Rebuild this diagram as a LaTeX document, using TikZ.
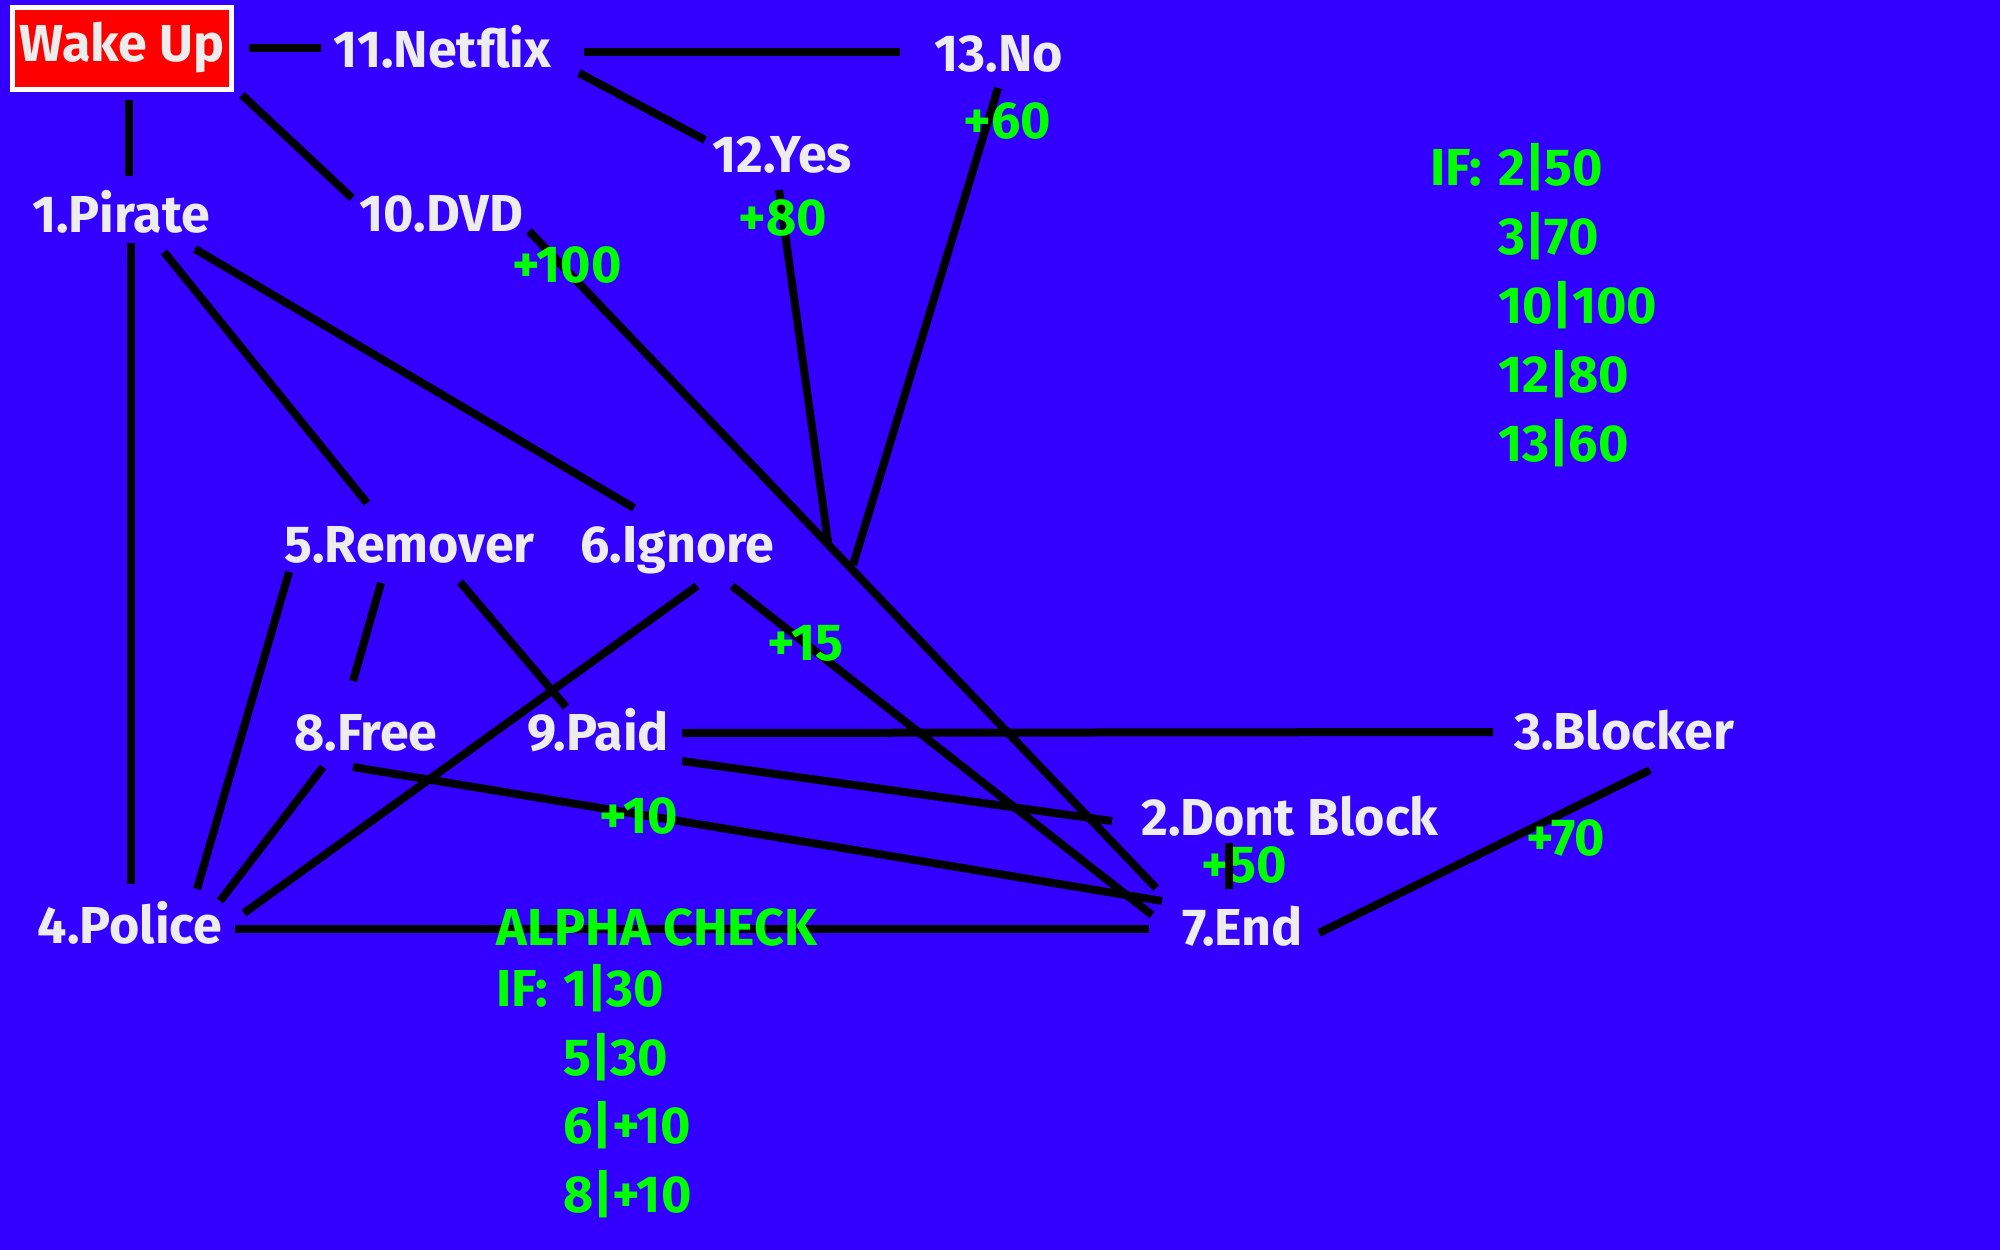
\documentclass[tikz,border=0pt]{standalone}
\usepackage{fontspec}
\setmainfont{Fira Sans}
\definecolor{bg}{HTML}{3300FF}
\definecolor{lbl}{HTML}{EDEDED}
\definecolor{grn}{HTML}{00FF00}
\definecolor{boxred}{HTML}{FF0000}
\tikzset{
  lab/.style={inner sep=0pt, anchor=base, text=lbl, font=\fontsize{52}{62}\selectfont\bfseries},
  gain/.style={inner sep=0pt, anchor=base, text=grn, font=\fontsize{52}{62}\selectfont\bfseries},
  gainl/.style={gain, anchor=base west},
  wire/.style={line width=8pt, black},
}
\begin{document}
\begin{tikzpicture}[x=1pt,y=-1pt]
\useasboundingbox (0,0) rectangle (2000,1250);
\fill[bg] (0,0) rectangle (2000,1250);

% connector end points
\coordinate (wake-n1) at (249,48);   \coordinate (netflix-w) at (321,48);
\coordinate (netflix-e) at (584,52); \coordinate (no-w) at (900,52);
\coordinate (netflix-s) at (579,73); \coordinate (yes-n) at (705,140);
\coordinate (wake-s) at (129,100);   \coordinate (pirate-n) at (129,176);
\coordinate (wake-se) at (242,95);   \coordinate (dvd-n) at (352,198);
\coordinate (dvd-s) at (529,231);    \coordinate (end-dvd) at (1156,888);
\coordinate (yes-s) at (779,190);    \coordinate (join-yes) at (828,542);
\coordinate (no-s) at (998,88);      \coordinate (join-no) at (853,565);
\coordinate (pirate-s) at (131,243); \coordinate (police-n) at (131,884);
\coordinate (pirate-s2) at (164,252);\coordinate (remover-n) at (367,503);
\coordinate (pirate-s3) at (195,249);\coordinate (ignore-n) at (634,508);
\coordinate (remover-s1) at (289,572);\coordinate (police-n2) at (197,889);
\coordinate (remover-s2) at (381,583);\coordinate (free-n) at (353,681);
\coordinate (remover-s3) at (460,582);\coordinate (paid-n) at (566,707);
\coordinate (ignore-s1) at (697,586); \coordinate (police-ne) at (244,913);
\coordinate (ignore-s2) at (732,586); \coordinate (end-ignore) at (1152,915);
\coordinate (free-s1) at (323,767);   \coordinate (police-n3) at (220,901);
\coordinate (free-s2) at (353,767);   \coordinate (end-free) at (1162,901);
\coordinate (paid-e1) at (682,733);   \coordinate (blocker-w) at (1493,732);
\coordinate (paid-e2) at (682,761);   \coordinate (dontblock-w) at (1112,821);
\coordinate (police-e) at (235,929);  \coordinate (end-w) at (1149,929);
\coordinate (dontblock-s) at (1229,843); \coordinate (end-n) at (1229,889);
\coordinate (end-e) at (1319,933);    \coordinate (blocker-s) at (1650,770);

% this gain sits under its connector in the reference
\node[gain] (g50) at (1244.5,882) {+50};

% connectors
\draw[wire] (wake-n1) -- (netflix-w);
\draw[wire] (netflix-e) -- (no-w);
\draw[wire] (netflix-s) -- (yes-n);
\draw[wire] (wake-s) -- (pirate-n);
\draw[wire] (wake-se) -- (dvd-n);
\draw[wire] (dvd-s) -- (end-dvd);
\draw[wire] (yes-s) -- (join-yes);
\draw[wire] (no-s) -- (join-no);
\draw[wire] (pirate-s) -- (police-n);
\draw[wire] (pirate-s2) -- (remover-n);
\draw[wire] (pirate-s3) -- (ignore-n);
\draw[wire] (remover-s1) -- (police-n2);
\draw[wire] (remover-s2) -- (free-n);
\draw[wire] (remover-s3) -- (paid-n);
\draw[wire] (ignore-s1) -- (police-ne);
\draw[wire] (ignore-s2) -- (end-ignore);
\draw[wire] (free-s1) -- (police-n3);
\draw[wire] (free-s2) -- (end-free);
\draw[wire] (paid-e1) -- (blocker-w);
\draw[wire] (paid-e2) -- (dontblock-w);
\draw[wire] (police-e) -- (end-w);
\draw[wire] (dontblock-s) -- (end-n);
\draw[wire] (end-e) -- (blocker-s);

% start box
\node[draw=white, line width=5pt, fill=boxred, minimum width=219pt, minimum height=82pt, inner sep=0pt,
      text=lbl, font=\fontsize{52}{62}\selectfont\bfseries] (wake) at (122,48) {Wake Up};

% labels
\node[lab] (netflix) at (442.5,67) {11.Netflix};
\node[lab] (no) at (999,71) {13.No};
\node[lab] (yes) at (782,172) {12.Yes};
\node[gain] (g60) at (1007.5,138) {+60};
\node[gain] (g80) at (783,235) {+80};
\node[lab] (pirate) at (121,232) {1.Pirate};
\node[lab] (dvd) at (441.5,231) {10.DVD};
\node[gain] (g100) at (567,282) {+100};
\node[lab] (remover) at (409.5,562) {5.Remover};
\node[lab] (ignore) at (677.5,562) {6.Ignore};
\node[gain] (g15) at (805.5,660) {+15};
\node[lab] (free) at (366,750) {8.Free};
\node[lab] (paid) at (598,750) {9.Paid};
\node[lab] (blocker) at (1624,749) {3.Blocker};
\node[lab] (dontblock) at (1290,835) {2.Dont Block};
\node[gain] (g10) at (639,833) {+10};
\node[gain] (g70) at (1566,855) {+70};
\node[lab] (police) at (130,943) {4.Police};
\node[lab] (end) at (1242.5,945) {7.End};

% condition blocks
\node[gain] (alpha) at (657,945) {ALPHA CHECK};
\node[gainl] (aif) at (496,1006) {IF:};
\node[gainl] (a1) at (563,1006) {1|30};
\node[gainl] (a2) at (563,1075) {5|30};
\node[gainl] (a3) at (563,1143) {6|+10};
\node[gainl] (a4) at (563,1212) {8|+10};

\node[gainl] (rif) at (1430,185) {IF:};
\node[gainl] (r1) at (1498,185) {2|50};
\node[gainl] (r2) at (1498,254) {3|70};
\node[gainl] (r3) at (1498,323) {10|100};
\node[gainl] (r4) at (1498,392) {12|80};
\node[gainl] (r5) at (1498,461) {13|60};
\end{tikzpicture}
\end{document}
